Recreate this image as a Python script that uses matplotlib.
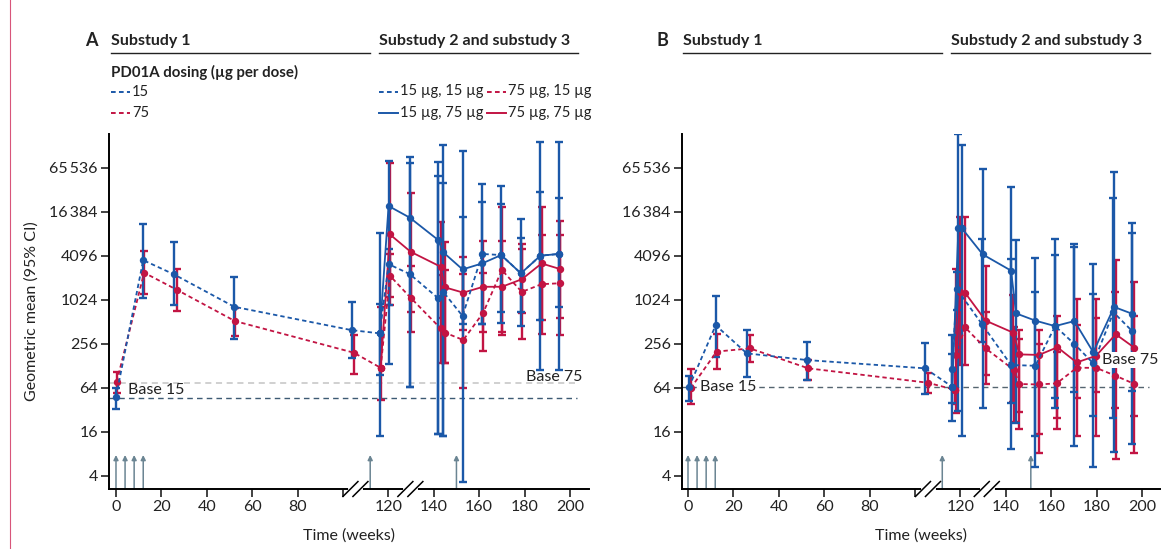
import numpy as np
import matplotlib.pyplot as plt
from matplotlib.lines import Line2D

plt.rcParams['font.family'] = ['Lato', 'DejaVu Sans']

BLUE = '#1b58a8'
RED = '#c21443'
ARROW = '#6b8593'
TXT = '#222222'
nan = np.nan

# ---------------- panel A ----------------
# substudy 1
a_s1_15_wk = [0, 12, 25.6, 52.1, 103.8, 116.2]
a_s1_15_gm = [48, 3560, 2270, 820, 393, 355]
a_s1_15_lo = [33, 1090, 873, 294, 163, 96]
a_s1_15_hi = [64, 11100, 6380, 2120, 955, 890]

a_s1_75_wk = [0.3, 12.4, 27, 52.4, 104.8, 116.6]
a_s1_75_gm = [77, 2400, 1390, 523, 193, 120]
a_s1_75_lo = [54, 1240, 720, 326, 100, 43]
a_s1_75_hi = [105, 4740, 2720, 800, 340, 820]

# substudy 2 and 3
a_1515_wk = [116.2, 120.1, 129.4, 142, 144.2, 152.7, 161.4, 169.7, 178.4, 187, 195.2]
a_1515_gm = [355, 3140, 2300, 1070, 1310, 613, 4330, 4180, 2350, 4100, 4330]
a_1515_lo = [14, 870, 66, 15, 14, 3.3, 478, 700, 690, 540, 820]
a_1515_hi = [8500, 5100, 77000, 51000, 40000, 14000, 39000, 37000, 13000, 30000, 25500]

a_1575_wk = [116.2, 120.1, 129.4, 142, 144.2, 152.7, 161.4, 169.7, 178.4, 187, 195.2]
a_1575_gm = [355, 19600, 13600, 6700, 4550, 2660, 3220, 4180, 2350, 4100, 4330]
a_1575_lo = [nan, 135, 66, 15, 14, 478, 478, 495, 450, 112, 112]
a_1575_hi = [nan, 82000, 91000, 79000, 134000, 112000, 22400, 20800, 7200, 148000, 148000]

a_7515_wk = [116.6, 120.7, 129.8, 143, 145, 153, 161.8, 170, 178.8, 187.5, 195.5]
a_7515_gm = [120, 2180, 1090, 416, 362, 288, 680, 2610, 1310, 1670, 1720]
a_7515_lo = [nan, 1130, 374, 138, 138, 64, 205, 337, 300, 540, 580]
a_7515_hi = [nan, 4330, 2960, 2230, 2600, 2300, 2350, 6560, 5870, 7860, 7860]

a_7575_wk = [116.6, 120.7, 129.8, 143, 145, 153, 161.8, 170, 178.8, 187.5, 195.5]
a_7575_gm = [120, 8000, 4640, 2900, 1510, 1280, 1540, 1540, 1950, 3210, 2700]
a_7575_lo = [nan, 870, 700, 570, 138, 400, 370, 370, 680, 347, 337]
a_7575_hi = [nan, 77000, 29800, 12000, 6400, 3960, 6560, 19200, 5000, 19200, 12300]

a_base15 = 46
a_base75 = 75
a_arrows = [0, 4, 8, 12, 112, 150]
a_breaks = [105.5, 129.7]

# ---------------- panel B ----------------
b_s1_15_wk = [0.4, 12.2, 25.9, 52.6, 104.4, 116.4]
b_s1_15_gm = [65, 458, 189, 153, 118, 66]
b_s1_15_lo = [42, 170, 90, 83, 52, 40]
b_s1_15_hi = [94, 1160, 400, 272, 265, 184]

b_s1_75_wk = [1.2, 12.6, 27.3, 53, 105.6, 117.6]
b_s1_75_gm = [63, 200, 221, 118, 75, 60]
b_s1_75_lo = [38, 115, 145, 83, 54, 38]
b_s1_75_hi = [115, 347, 338, 153, 103, 115]

b_1515_wk = [116.3, 118.4, 129.4, 142.3, 153, 161.7, 170.2, 178.5, 187.4, 195.5]
b_1515_gm = [115, 1440, 478, 131, 128, 446, 254, 138, 690, 385]
b_1515_lo = [22.6, 740, 272, 40, 14, 46, 56, 26.5, 25, 58]
b_1515_hi = [337, 2470, 6900, 3720, 1300, 4180, 5440, 1230, 25000, 8300]

b_1575_wk = [116.4, 119.1, 120.6, 129.8, 142.3, 144.5, 153.0, 161.7, 170.2, 178.5, 187.7, 195.7]
b_1575_gm = [66, 9750, 9750, 4270, 2560, 666, 530, 446, 523, 196, 815, 657]
b_1575_lo = [nan, 30.7, 14, 34, 9.2, 21, 5.3, 34, 10.3, 5.3, 8.4, 10.8]
b_1575_hi = [nan, 190000, 133000, 63000, 36000, 6700, 3850, 6900, 6000, 3150, 58000, 11300]

b_7515_wk = [117.6, 118.2, 122, 131.1, 143.6, 146, 154.6, 162.4, 171.2, 179.7, 188.1, 196.5]
b_7515_gm = [60, 180, 430, 221, 112, 72, 71, 73.5, 120, 120, 94, 72.5]
b_7515_lo = [nan, 28.6, nan, 96, 22, 30, 15, 25, 46, 56, 34, 26.5]
b_7515_hi = [nan, 2660, nan, 700, 437, 300, 250, 200, 460, 580, 1310, 617]

b_7575_wk = [117.6, 119.8, 122, 131.1, 143.3, 146, 154.6, 162.7, 171.2, 179.7, 188.4, 196.6]
b_7575_gm = [60, 1310, 1280, 530, 362, 183, 180, 229, 142, 175, 345, 226]
b_7575_lo = [nan, 131, 131, 73, 40.5, 17.4, 8.1, 17.7, 14.1, 14.1, 6.7, 8.3]
b_7575_hi = [nan, 14000, 14000, 3000, 1180, 394, 394, 613, 1040, 1040, 3560, 1810]

b_base = 65
b_arrows = [0, 4, 8, 12, 112, 151]
b_breaks = [105.7, 131.6]

y_ticks = [4, 16, 64, 256, 1024, 4096, 16384, 65536]
y_labels = ['4', '16', '64', '256', '1024', '4096', '16\u2009384', '65\u2009536']
x_ticks = [0, 20, 40, 60, 80, 100, 120, 140, 160, 180, 200]
x_labels = ['0', '20', '40', '60', '80', '', '120', '140', '160', '180', '200']

DASH = (0, (2.4, 1.7))
FS = 11.5


def series(ax, wk, gm, lo, hi, color, dashed):
    gm = np.asarray(gm, float)
    err = np.vstack([gm - np.asarray(lo, float), np.asarray(hi, float) - gm])
    ax.errorbar(wk, gm, yerr=err, color=color, ls=DASH if dashed else '-',
                lw=1.3, marker='o', ms=4.3, elinewidth=1.7, capsize=3.2,
                capthick=1.7, zorder=3)


def setup(ax, xlim, arrows, breaks):
    ax.set_yscale('log', base=2)
    ax.set_ylim(2 ** 1.4, 2 ** 17.53)
    ax.set_xlim(*xlim)
    ax.set_yticks(y_ticks, y_labels)
    ax.set_xticks(x_ticks, x_labels)
    ax.minorticks_off()
    for s in ['top', 'right']:
        ax.spines[s].set_visible(False)
    for s in ['left', 'bottom']:
        ax.spines[s].set_linewidth(1.4)
    ax.tick_params(direction='out', length=6, width=1.2, labelsize=FS,
                   colors=TXT, pad=2)
    ax.set_xlabel('Time (weeks)', fontsize=FS, color=TXT, labelpad=10)
    for w in arrows:
        ax.annotate('', xy=(w, 7.7), xytext=(w, 2 ** 1.4),
                    arrowprops=dict(arrowstyle='-|>', color=ARROW, lw=1.1,
                                    mutation_scale=7, shrinkA=0, shrinkB=0),
                    zorder=2)
    tr = ax.get_xaxis_transform()
    for b in breaks:
        ax.plot([b - 2.2, b + 2.2], [0, 0], color='white', lw=3.5,
                transform=tr, clip_on=False, zorder=5)
        for off in (-2.2, 2.2):
            ax.plot([b + off - 3.3, b + off + 3.3], [-0.021, 0.021],
                    color='black', lw=1.1, transform=tr, clip_on=False, zorder=6)


fig = plt.figure(figsize=(11.65, 5.49), dpi=100)
axA = fig.add_axes([109 / 1165, 1 - 489 / 549, 480 / 1165, 355 / 549])
axB = fig.add_axes([682 / 1165, 1 - 489 / 549, 478 / 1165, 355 / 549])

# panel A
setup(axA, (-3.08, 208.4), a_arrows, a_breaks)
axA.plot([-3, 203], [a_base75] * 2, ls=(0, (4, 3)), color='#c4c4c4', lw=1.1, zorder=1)
axA.plot([-3, 203], [a_base15] * 2, ls=(0, (4, 3)), color='#3d5a73', lw=1.0, zorder=1)
axA.text(5.2, 60, 'Base 15', fontsize=FS, color=TXT, va='center', ha='left')
axA.text(205.3, 90, 'Base 75', fontsize=FS, color=TXT, va='center', ha='right')
series(axA, a_s1_75_wk, a_s1_75_gm, a_s1_75_lo, a_s1_75_hi, RED, True)
series(axA, a_7515_wk, a_7515_gm, a_7515_lo, a_7515_hi, RED, True)
series(axA, a_7575_wk, a_7575_gm, a_7575_lo, a_7575_hi, RED, False)
series(axA, a_s1_15_wk, a_s1_15_gm, a_s1_15_lo, a_s1_15_hi, BLUE, True)
series(axA, a_1515_wk, a_1515_gm, a_1515_lo, a_1515_hi, BLUE, True)
series(axA, a_1575_wk, a_1575_gm, a_1575_lo, a_1575_hi, BLUE, False)
axA.set_ylabel('Geometric mean (95% CI)', fontsize=FS, color=TXT, labelpad=8)

# panel B
setup(axB, (-2.64, 207.9), b_arrows, b_breaks)
axB.plot([-3, 203], [b_base] * 2, ls=(0, (4, 3)), color='#556570', lw=1.0, zorder=1)
series(axB, b_s1_75_wk, b_s1_75_gm, b_s1_75_lo, b_s1_75_hi, RED, True)
series(axB, b_7515_wk, b_7515_gm, b_7515_lo, b_7515_hi, RED, True)
series(axB, b_7575_wk, b_7575_gm, b_7575_lo, b_7575_hi, RED, False)
series(axB, b_s1_15_wk, b_s1_15_gm, b_s1_15_lo, b_s1_15_hi, BLUE, True)
series(axB, b_1515_wk, b_1515_gm, b_1515_lo, b_1515_hi, BLUE, True)
series(axB, b_1575_wk, b_1575_gm, b_1575_lo, b_1575_hi, BLUE, False)
axB.text(5.3, b_base, 'Base 15', fontsize=FS, color=TXT, va='center', ha='left',
         bbox=dict(fc='white', ec='none', pad=0.5), zorder=7)
axB.text(182.2, 153, 'Base 75', fontsize=FS, color=TXT, va='center', ha='left',
         bbox=dict(fc='white', ec='none', pad=0.5), zorder=7)


# headers and legend (figure pixel coordinates)
def fx(px):
    return px / 1165


def fy(py):
    return 1 - py / 549


for dx, letter in [(0, 'A'), (572, 'B')]:
    fig.text(fx(85 + dx), fy(41), letter, fontsize=13, fontweight='bold',
             color=TXT, va='center')
    fig.text(fx(111 + dx), fy(41), 'Substudy 1', fontsize=11.5, fontweight='bold',
             color=TXT, va='center')
    fig.text(fx(379 + dx), fy(41), 'Substudy 2 and substudy 3', fontsize=11.5,
             fontweight='bold', color=TXT, va='center')
    fig.add_artist(Line2D([fx(111 + dx), fx(370 + dx)], [fy(52.5)] * 2,
                          color=TXT, lw=1.0))
    fig.add_artist(Line2D([fx(379 + dx), fx(578 + dx)], [fy(52.5)] * 2,
                          color=TXT, lw=1.0))

fig.text(fx(111), fy(72.5), 'PD01A dosing (\u00b5g per dose)', fontsize=10.8,
         fontweight='bold', color=TXT, va='center')
legend_items = [
    (111, 91.5, BLUE, True, '15'),
    (111, 113, RED, True, '75'),
    (379, 91.5, BLUE, True, '15 \u00b5g, 15 \u00b5g'),
    (487, 91.5, RED, True, '75 \u00b5g, 15 \u00b5g'),
    (379, 113, BLUE, False, '15 \u00b5g, 75 \u00b5g'),
    (487, 113, RED, False, '75 \u00b5g, 75 \u00b5g'),
]
for px, py, col, dashed, lab in legend_items:
    fig.add_artist(Line2D([fx(px), fx(px + 19)], [fy(py)] * 2, color=col,
                          lw=1.4, ls=DASH if dashed else '-'))
    fig.text(fx(px + 21), fy(py), lab, fontsize=10.6, color=TXT, va='center')

# journal frame line on the left
fig.add_artist(Line2D([fx(10)] * 2, [0, 1], color='#d8557a', lw=0.8))

fig.savefig('out.png', dpi=100)
